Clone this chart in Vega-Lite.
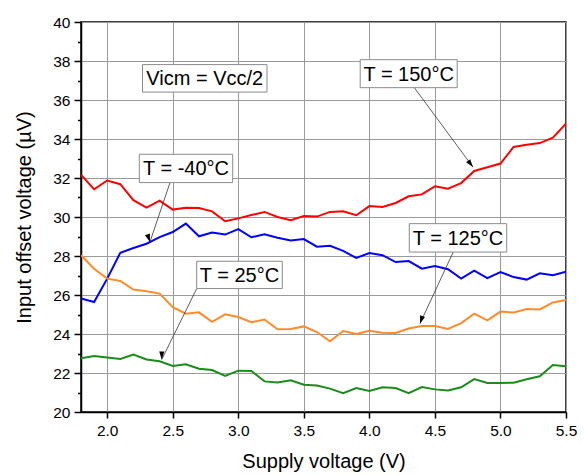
{
  "$schema": "https://vega.github.io/schema/vega-lite/v6.json",
  "width": 485,
  "height": 390,
  "autosize": "none",
  "padding": {"left": 81, "top": 22, "right": 20, "bottom": 63},
  "background": "white",
  "config": {
    "view": {"stroke": "black", "strokeWidth": 1.5},
    "font": "Liberation Sans",
    "axis": {
      "domainColor": "black",
      "domainWidth": 1.5,
      "tickColor": "black",
      "tickWidth": 1.5,
      "labelFont": "Liberation Sans",
      "labelFontSize": 15.5,
      "labelColor": "black",
      "labelOverlap": false,
      "titleFont": "Liberation Sans",
      "titleFontSize": 20,
      "titleFontWeight": "normal",
      "titleColor": "black",
      "grid": true,
      "gridColor": "#9a9a9a",
      "gridWidth": 1
    }
  },
  "resolve": {"axis": {"y": "independent"}},
  "datasets": {
    "curves": [
      {"V": 1.8, "t150": 32.17, "tm40": 25.82, "t125": 28.04, "t25": 22.75},
      {"V": 1.9, "t150": 31.42, "tm40": 25.64, "t125": 27.35, "t25": 22.87},
      {"V": 2.0, "t150": 31.87, "tm40": 26.84, "t125": 26.84, "t25": 22.79},
      {"V": 2.1, "t150": 31.68, "tm40": 28.17, "t125": 26.72, "t25": 22.72},
      {"V": 2.2, "t150": 30.86, "tm40": 28.41, "t125": 26.28, "t25": 22.94},
      {"V": 2.3, "t150": 30.48, "tm40": 28.63, "t125": 26.19, "t25": 22.69},
      {"V": 2.4, "t150": 30.84, "tm40": 28.97, "t125": 26.07, "t25": 22.6},
      {"V": 2.5, "t150": 30.38, "tm40": 29.23, "t125": 25.38, "t25": 22.36},
      {"V": 2.6, "t150": 30.48, "tm40": 29.66, "t125": 25.04, "t25": 22.45},
      {"V": 2.7, "t150": 30.46, "tm40": 29.01, "t125": 25.11, "t25": 22.22},
      {"V": 2.8, "t150": 30.29, "tm40": 29.2, "t125": 24.62, "t25": 22.15},
      {"V": 2.9, "t150": 29.78, "tm40": 29.1, "t125": 25.01, "t25": 21.85},
      {"V": 3.0, "t150": 29.93, "tm40": 29.38, "t125": 24.87, "t25": 22.12},
      {"V": 3.1, "t150": 30.1, "tm40": 28.96, "t125": 24.6, "t25": 22.1},
      {"V": 3.2, "t150": 30.26, "tm40": 29.11, "t125": 24.74, "t25": 21.57},
      {"V": 3.3, "t150": 30.0, "tm40": 28.94, "t125": 24.24, "t25": 21.51},
      {"V": 3.4, "t150": 29.83, "tm40": 28.8, "t125": 24.26, "t25": 21.63},
      {"V": 3.5, "t150": 30.05, "tm40": 28.87, "t125": 24.39, "t25": 21.4},
      {"V": 3.6, "t150": 30.02, "tm40": 28.48, "t125": 24.1, "t25": 21.36},
      {"V": 3.7, "t150": 30.26, "tm40": 28.52, "t125": 23.63, "t25": 21.2},
      {"V": 3.8, "t150": 30.29, "tm40": 28.26, "t125": 24.15, "t25": 20.97},
      {"V": 3.9, "t150": 30.09, "tm40": 27.9, "t125": 24.0, "t25": 21.23},
      {"V": 4.0, "t150": 30.56, "tm40": 28.15, "t125": 24.17, "t25": 21.08},
      {"V": 4.1, "t150": 30.51, "tm40": 28.04, "t125": 24.07, "t25": 21.27},
      {"V": 4.2, "t150": 30.72, "tm40": 27.69, "t125": 24.05, "t25": 21.23},
      {"V": 4.3, "t150": 31.06, "tm40": 27.74, "t125": 24.28, "t25": 20.97},
      {"V": 4.4, "t150": 31.16, "tm40": 27.35, "t125": 24.41, "t25": 21.28},
      {"V": 4.5, "t150": 31.57, "tm40": 27.49, "t125": 24.41, "t25": 21.16},
      {"V": 4.6, "t150": 31.45, "tm40": 27.32, "t125": 24.26, "t25": 21.1},
      {"V": 4.7, "t150": 31.74, "tm40": 26.84, "t125": 24.56, "t25": 21.27},
      {"V": 4.8, "t150": 32.36, "tm40": 27.25, "t125": 25.04, "t25": 21.69},
      {"V": 4.9, "t150": 32.55, "tm40": 26.86, "t125": 24.7, "t25": 21.49},
      {"V": 5.0, "t150": 32.74, "tm40": 27.18, "t125": 25.15, "t25": 21.49},
      {"V": 5.1, "t150": 33.59, "tm40": 26.92, "t125": 25.1, "t25": 21.5},
      {"V": 5.2, "t150": 33.71, "tm40": 26.79, "t125": 25.28, "t25": 21.68},
      {"V": 5.3, "t150": 33.79, "tm40": 27.11, "t125": 25.26, "t25": 21.83},
      {"V": 5.4, "t150": 34.07, "tm40": 27.01, "t125": 25.62, "t25": 22.41},
      {"V": 5.5, "t150": 34.79, "tm40": 27.2, "t125": 25.74, "t25": 22.34}
    ],
    "labels": [
      {"label": "Vicm = Vcc/2", "V": 2.744, "offset": 37.11},
      {"label": "T = 150°C", "V": 4.3, "offset": 37.35},
      {"label": "T = -40°C", "V": 2.601, "offset": 32.49},
      {"label": "T = 25°C", "V": 3.009, "offset": 27.03},
      {"label": "T = 125°C", "V": 4.676, "offset": 28.93}
    ],
    "arrows": [
      {"label": "T = 150°C", "V": 4.342, "offset": 36.64, "V2": 4.79, "offset2": 32.56},
      {"label": "T = -40°C", "V": 2.479, "offset": 31.76, "V2": 2.326, "offset2": 28.72},
      {"label": "T = 25°C", "V": 2.683, "offset": 26.33, "V2": 2.416, "offset2": 22.69},
      {"label": "T = 125°C", "V": 4.64, "offset": 28.21, "V2": 4.386, "offset2": 24.53}
    ]
  },
  "layer": [
    {
      "data": {"name": "curves"},
      "transform": [
        {"fold": ["t150", "tm40", "t125", "t25"], "as": ["T", "offset"]}
      ],
      "mark": {"type": "line", "strokeWidth": 2, "clip": true},
      "encoding": {
        "x": {
          "field": "V",
          "type": "quantitative",
          "scale": {"domain": [1.8, 5.5], "nice": false, "zero": false},
          "axis": {
            "title": "Supply voltage (V)",
            "values": [2.0, 2.25, 2.5, 2.75, 3.0, 3.25, 3.5, 3.75, 4.0, 4.25, 4.5, 4.75, 5.0, 5.25, 5.5],
            "labelExpr": "abs(datum.value * 2 - round(datum.value * 2)) < 0.001 ? format(datum.value, '.1f') : ''",
            "tickSize": {"condition": {"test": "abs(datum.value * 2 - round(datum.value * 2)) < 0.001", "value": 6}, "value": 3.5},
            "labelPadding": 5,
            "labelFlush": false,
            "titleBaseline": "alphabetic",
            "titleY": 55.5
          }
        },
        "y": {
          "field": "offset",
          "type": "quantitative",
          "scale": {"domain": [20, 40], "nice": false, "zero": false},
          "axis": {
            "orient": "left",
            "title": "Input offset voltage (µV)",
            "values": [20, 22, 24, 26, 28, 30, 32, 34, 36, 38, 40],
            "tickSize": 7,
            "labelPadding": 4,
            "labelFlush": false,
            "titleBaseline": "alphabetic",
            "titleX": -51
          }
        },
        "color": {
          "field": "T",
          "type": "nominal",
          "scale": {
            "domain": ["t150", "tm40", "t125", "t25"],
            "range": ["#ff0000", "#0000ff", "#ff8a2a", "#1a8c1a"]
          },
          "legend": null
        },
        "detail": {"field": "T"}
      }
    },
    {
      "data": {"name": "arrows"},
      "mark": {"type": "rule", "color": "#333333", "strokeWidth": 0.8},
      "encoding": {
        "x": {"field": "V", "type": "quantitative"},
        "y": {
          "field": "offset",
          "type": "quantitative",
          "axis": {
            "orient": "left",
            "title": null,
            "values": [21, 23, 25, 27, 29, 31, 33, 35, 37, 39],
            "labels": false,
            "tickSize": 3.5,
            "domain": false
          }
        },
        "x2": {"field": "V2"},
        "y2": {"field": "offset2"}
      }
    },
    {
      "data": {"name": "arrows"},
      "mark": {
        "type": "point",
        "filled": true,
        "color": "black",
        "opacity": 1,
        "size": 256,
        "shape": "M0,0 L-0.32,1 L0.32,1 Z"
      },
      "encoding": {
        "x": {"field": "V2", "type": "quantitative"},
        "y": {"field": "offset2", "type": "quantitative", "axis": null},
        "angle": {
          "field": "label",
          "type": "nominal",
          "scale": {
            "domain": ["T = 150°C", "T = -40°C", "T = 25°C", "T = 125°C"],
            "range": [143.4, 198.6, 206.2, 204.9]
          },
          "legend": null
        }
      }
    },
    {
      "data": {"name": "labels"},
      "mark": {
        "type": "point",
        "filled": true,
        "fill": "white",
        "stroke": "#8a8a8a",
        "strokeWidth": 1,
        "opacity": 1,
        "size": 10000
      },
      "encoding": {
        "x": {"field": "V", "type": "quantitative"},
        "y": {"field": "offset", "type": "quantitative", "axis": null},
        "shape": {
          "field": "label",
          "type": "nominal",
          "scale": {
            "domain": ["Vicm = Vcc/2", "T = 150°C", "T = -40°C", "T = 25°C", "T = 125°C"],
            "range": [
              "M-1.245,-0.275 H1.245 V0.275 H-1.245 Z",
              "M-0.97,-0.28 H0.97 V0.28 H-0.97 Z",
              "M-0.934,-0.283 H0.934 V0.283 H-0.934 Z",
              "M-0.856,-0.273 H0.856 V0.273 H-0.856 Z",
              "M-0.974,-0.284 H0.974 V0.284 H-0.974 Z"
            ]
          },
          "legend": null
        }
      }
    },
    {
      "data": {"name": "labels"},
      "mark": {
        "type": "text",
        "font": "Liberation Sans",
        "fontSize": 20,
        "color": "black",
        "align": "center",
        "baseline": "middle",
        "dy": 1
      },
      "encoding": {
        "x": {"field": "V", "type": "quantitative"},
        "y": {"field": "offset", "type": "quantitative", "axis": null},
        "text": {"field": "label"}
      }
    }
  ]
}
